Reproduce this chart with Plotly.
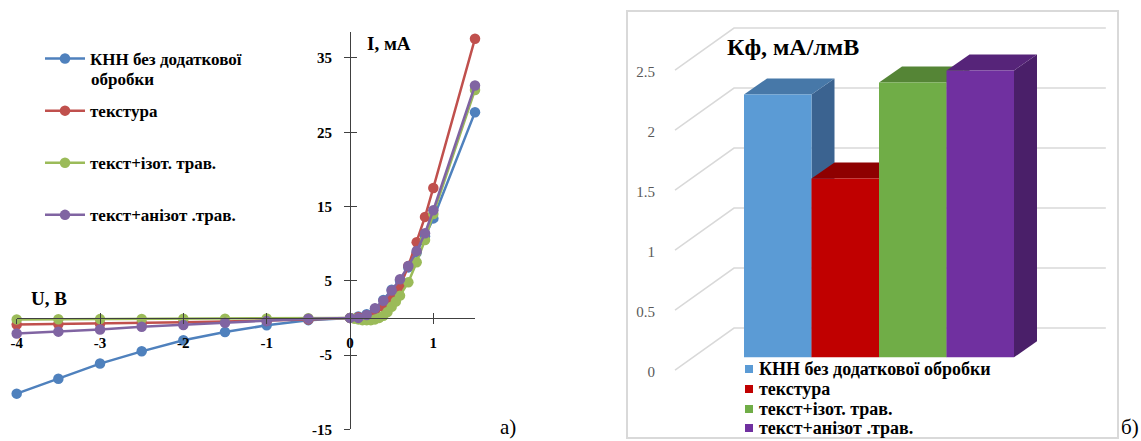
import plotly.graph_objects as go

W, H = 1141, 441

# ---------------- I–V characteristics (panel а) ----------------
U_main = [-4, -3.5, -3, -2.5, -2, -1.5, -1, -0.5, 0, 0.1, 0.2, 0.3, 0.4, 0.5,
          0.6, 0.7, 0.8, 0.9, 1.0, 1.5]
I_knn = [-10.2, -8.2, -6.15, -4.5, -3.0, -1.9, -1.0, -0.3, 0, 0.2, 0.5, 1.2,
         2.4, 3.8, 5.0, 6.8, 8.8, 11.0, 13.4, 27.7]
I_tex = [-0.9, -0.85, -0.8, -0.7, -0.6, -0.5, -0.4, -0.2, 0, 0.1, 0.3, 0.8,
         1.5, 2.5, 4.2, 7.0, 10.2, 13.6, 17.5, 37.6]
U_iso = [-4, -3.5, -3, -2.5, -2, -1.5, -1, -0.5, 0, 0.05, 0.1, 0.15, 0.2, 0.25,
         0.3, 0.35, 0.4, 0.45, 0.5, 0.55, 0.6, 0.7, 0.8, 0.9, 1.0, 1.5]
I_iso = [-0.2, -0.18, -0.16, -0.14, -0.12, -0.1, -0.07, -0.03, 0, -0.1, -0.2,
         -0.3, -0.3, -0.3, -0.2, 0, 0.3, 0.8, 1.5, 2.2, 3.0, 4.8, 7.5, 10.5,
         14.0, 30.7]
I_aniso = [-2.1, -1.85, -1.55, -1.2, -0.95, -0.65, -0.43, -0.1, 0, 0.0, 0.4,
           1.3, 2.3, 3.7, 5.2, 7.0, 9.0, 11.4, 14.5, 31.3]

iv_names = ["КНН без додаткової", "текстура", "текст+ізот. трав.",
            "текст+анізот .трав."]
iv_colors = ["#4F81BD", "#C0504D", "#9BBB59", "#8064A2"]

U_ticks = [-4, -3, -2, -1, 0, 1]
U_ticktext = ["-4", "-3", "-2", "-1", "0", "1"]
I_ticks = [-15, -5, 5, 15, 25, 35]
I_ticktext = ["-15", "-5", "5", "15", "25", "35"]

# ---------------- photo-conversion coefficient (panel б) ----------------
kf_names = ["КНН без додаткової обробки", "текстура", "текст+ізот. трав.",
            "текст+анізот .трав."]
K_f = [2.19, 1.49, 2.29, 2.39]
kf_ticks = [0, 0.5, 1, 1.5, 2, 2.5]

front_cols = ["#5B9BD5", "#C00000", "#70AD47", "#7030A0"]
top_cols = ["#4778A8", "#8E0000", "#558536", "#562479"]
side_cols = ["#3B6390", "#7A0000", "#4A7530", "#4A1F69"]

SERIF = "'Liberation Serif', 'Times New Roman', Tinos, serif"


def px(x):
    return x / W


def py(y):
    return (H - y) / H


fig = go.Figure()

# ---- panel а traces
series = [(U_main, I_knn), (U_main, I_tex), (U_iso, I_iso), (U_main, I_aniso)]
for k, (u, i) in enumerate(series):
    fig.add_trace(go.Scatter(
        x=u, y=i, name=iv_names[k], mode="lines+markers",
        line=dict(color=iv_colors[k], width=2.5),
        marker=dict(color=iv_colors[k], size=10.5),
        legendgroup=f"g{k}", cliponaxis=False,
        xaxis="x", yaxis="y"))

# companion axes carrying the inward half of the crossing tick marks
fig.add_trace(go.Scatter(x=[None], y=[None], xaxis="x2", yaxis="y2",
                         showlegend=False, hoverinfo="skip"))

# ---- panel б: oblique-projection bars built from K_f
BAR_DX, BAR_DY = 23 / 67.5, 16 / 120      # bar depth offset (slot / value units)
FLOOR_DX, FLOOR_DY = 59 / 67.5, 42 / 120  # full floor depth offset
F0 = 0.305                                # bar front plane as floor-depth fraction
WALL_X, RIGHT_X = -1.2556, 4.253          # side wall and back wall end (front plane)

shapes = []
for v in kf_ticks:
    x0 = WALL_X - F0 * FLOOR_DX
    y0 = v - F0 * FLOOR_DY
    x1 = WALL_X + (1 - F0) * FLOOR_DX
    y1 = v + (1 - F0) * FLOOR_DY
    x2 = RIGHT_X + (1 - F0) * FLOOR_DX
    shapes.append(dict(type="path", xref="x3", yref="y3", layer="below",
                       path=f"M{x0},{y0} L{x1},{y1} L{x2},{y1}",
                       line=dict(color="#D9D9D9", width=1.5)))

for k, v in enumerate(K_f):
    xl, xr = k - 0.5, k + 0.5
    side_x = [xr, xr, xr + BAR_DX, xr + BAR_DX, xr]
    side_y = [0, v, v + BAR_DY, BAR_DY, 0]
    top_x = [xl, xr, xr + BAR_DX, xl + BAR_DX, xl]
    top_y = [v, v, v + BAR_DY, v + BAR_DY, v]
    front_x = [xl, xr, xr, xl, xl]
    front_y = [0, 0, v, v, 0]
    for xs, ys, col in ((side_x, side_y, side_cols[k]),
                        (top_x, top_y, top_cols[k]),
                        (front_x, front_y, front_cols[k])):
        fig.add_trace(go.Scatter(
            x=xs, y=ys, fill="toself", fillcolor=col, mode="lines",
            line=dict(width=0, color=col), showlegend=False,
            hoverinfo="skip", xaxis="x3", yaxis="y3"))

fig.add_trace(go.Scatter(x=[None], y=[None], xaxis="x3", yaxis="y4",
                         showlegend=False, hoverinfo="skip"))

# chart frame of panel б
shapes.append(dict(type="rect", xref="paper", yref="paper",
                   x0=px(627), x1=px(1118), y0=py(438), y1=py(11),
                   line=dict(color="#D9D9D9", width=2), layer="below"))

# legend keys of panel б
leg_rows = [369, 389, 409, 428]
for k, yr in enumerate(leg_rows):
    shapes.append(dict(type="rect", xref="paper", yref="paper",
                       x0=px(745), x1=px(753), y0=py(yr + 4), y1=py(yr - 4),
                       fillcolor=front_cols[k], line=dict(width=0)))

bold = dict(family=SERIF, size=17, color="black", weight="bold")
annotations = [
    dict(text="обробки", x=px(89), y=py(79), xanchor="left", yanchor="middle",
         font=bold),
    dict(text="I, мА", x=px(365), y=py(43), xanchor="left", yanchor="middle",
         font=dict(family=SERIF, size=19, color="black", weight="bold")),
    dict(text="U, В", x=px(29), y=py(298), xanchor="left", yanchor="middle",
         font=dict(family=SERIF, size=19, color="black", weight="bold")),
    dict(text="а)", x=px(498), y=py(441), xanchor="left", yanchor="bottom",
         font=dict(family=SERIF, size=21, color="black")),
    dict(text="б)", x=px(1119), y=py(427), xanchor="left", yanchor="middle",
         font=dict(family=SERIF, size=21, color="black")),
    dict(text="Кф, мА/лмВ", x=px(793), y=py(47), xanchor="center",
         yanchor="middle",
         font=dict(family=SERIF, size=24, color="black", weight="bold")),
]
for k, yr in enumerate(leg_rows):
    annotations.append(dict(
        text=kf_names[k], x=px(757), y=py(yr), xanchor="left",
        yanchor="middle",
        font=dict(family=SERIF, size=18, color="black", weight="bold")))
for a in annotations:
    a.update(xref="paper", yref="paper", showarrow=False)

tickfont = dict(family=SERIF, size=15, color="black", weight="bold")
X_DOM = [px(16.7), px(475)]
Y_DOM = [py(429.3), py(32)]
X_RANGE = [-4, 1.5]
Y_RANGE = [-15, 38.5]
AX_COL = "#404040"

Y3_RANGE = [-0.6975, 2.9775]
LABEL_SHIFT = 0.12

fig.update_layout(
    width=W, height=H,
    margin=dict(l=0, r=0, t=0, b=0, autoexpand=False),
    paper_bgcolor="white", plot_bgcolor="rgba(0,0,0,0)",
    font=dict(family=SERIF),
    xaxis=dict(domain=X_DOM, range=X_RANGE, anchor="free", position=py(317.8),
               showline=True, linecolor=AX_COL, linewidth=1,
               ticks="outside", ticklen=5, tickcolor=AX_COL, tickwidth=1,
               tickvals=U_ticks, ticktext=U_ticktext, tickfont=tickfont,
               ticklabelstandoff=6, showgrid=False, zeroline=False,
               automargin=False),
    yaxis=dict(domain=Y_DOM, range=Y_RANGE, anchor="free", position=px(350),
               showline=True, linecolor=AX_COL, linewidth=1,
               ticks="outside", ticklen=6, tickcolor=AX_COL, tickwidth=1,
               tickvals=I_ticks, ticktext=I_ticktext, tickfont=tickfont,
               ticklabelstandoff=9, showgrid=False, zeroline=False,
               automargin=False),
    xaxis2=dict(overlaying="x", range=X_RANGE, anchor="free",
                position=py(317.8), ticks="inside", ticklen=5,
                tickcolor=AX_COL, tickvals=U_ticks, showticklabels=False,
                showgrid=False, zeroline=False, showline=False),
    yaxis2=dict(overlaying="y", range=Y_RANGE, anchor="free",
                position=px(350), ticks="inside", ticklen=6,
                tickcolor=AX_COL, tickvals=I_ticks, showticklabels=False,
                showgrid=False, zeroline=False, showline=False),
    xaxis3=dict(domain=[0.5, 1.0], range=[-3.0704, 5.3815], anchor="y3",
                visible=False),
    yaxis3=dict(domain=[0, 1], range=Y3_RANGE, anchor="x3", visible=False),
    yaxis4=dict(overlaying="y3", anchor="free", position=px(655),
                range=[Y3_RANGE[0] + LABEL_SHIFT, Y3_RANGE[1] + LABEL_SHIFT],
                tickvals=kf_ticks, ticks="", showgrid=False, zeroline=False,
                showline=False, automargin=False,
                tickfont=dict(family=SERIF, size=15, color="#595959")),
    legend=dict(x=px(40), y=py(41), xanchor="left", yanchor="top",
                font=bold, tracegroupgap=27, valign="top", itemwidth=40,
                bgcolor="rgba(0,0,0,0)"),
    shapes=shapes,
    annotations=annotations,
    showlegend=True,
)

fig.write_html("out.html")
